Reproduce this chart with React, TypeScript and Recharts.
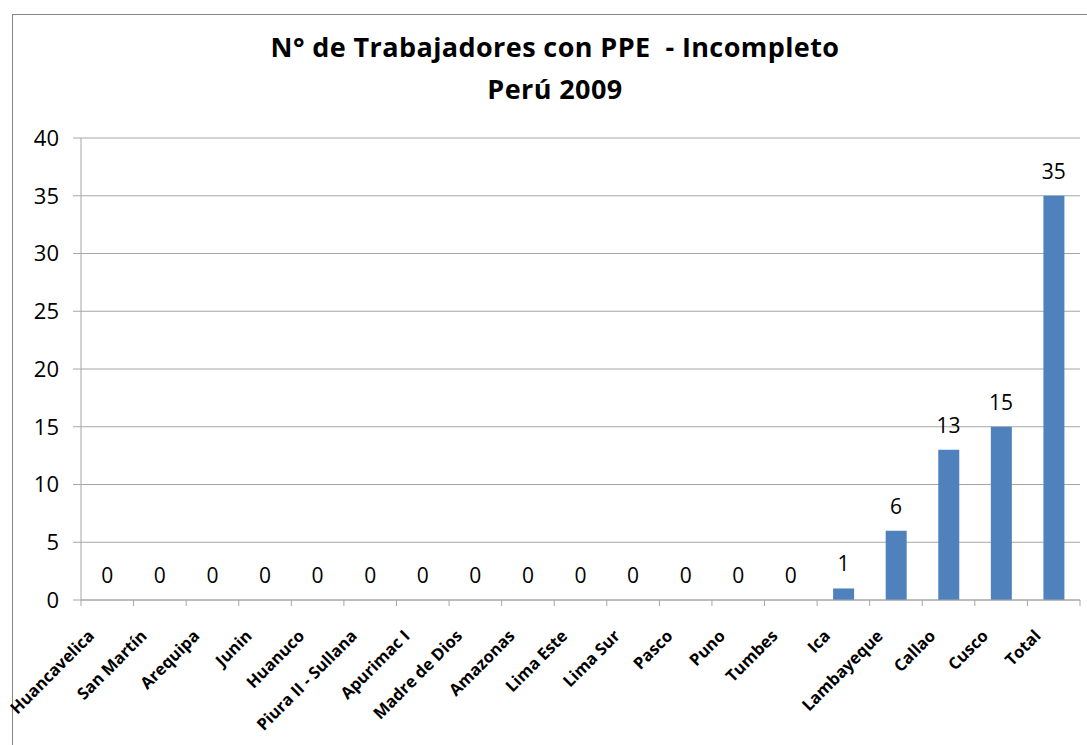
import React from 'react';
import { ComposedChart, Bar, Line, XAxis, YAxis, CartesianGrid, LabelList } from 'recharts';

const categories = [
  'Huancavelica', 'San Martín', 'Arequipa', 'Junin', 'Huanuco', 'Piura II - Sullana',
  'Apurimac I', 'Madre de Dios', 'Amazonas', 'Lima Este', 'Lima Sur', 'Pasco',
  'Puno', 'Tumbes', 'Ica', 'Lambayeque', 'Callao', 'Cusco', 'Total',
];
const values = [0, 0, 0, 0, 0, 0, 0, 0, 0, 0, 0, 0, 0, 0, 1, 6, 13, 15, 35];
const yTicks = [0, 5, 10, 15, 20, 25, 30, 35, 40];
const titleLines = ['N° de Trabajadores con PPE  - Incompleto', 'Perú 2009'];

const data = categories.map((name, i) => ({ name, value: values[i] }));

const FONT = '"Open Sans", sans-serif';
const AXIS = '#A6A6A6';

const XTick = (props: any) => {
  const { x, y, payload, index, width, visibleTicksCount } = props;
  const band = width && visibleTicksCount ? width / visibleTicksCount : 52.6;
  const axisY = y - 6;
  const tx = x - 12;
  const ty = y + 31;
  return (
    <g>
      <line x1={x - band / 2} x2={x - band / 2} y1={axisY} y2={axisY + 6} stroke={AXIS} />
      {index === visibleTicksCount - 1 && (
        <line x1={x + band / 2} x2={x + band / 2} y1={axisY} y2={axisY + 6} stroke={AXIS} />
      )}
      <text
        x={tx}
        y={ty}
        textAnchor="end"
        transform={`rotate(-45, ${tx}, ${ty})`}
        fontFamily={FONT}
        fontWeight="bold"
        fontSize={16.5}
        fill="#000"
      >
        {payload.value}
      </text>
    </g>
  );
};

const ValueLabel = (props: any) => {
  const { x, y, value } = props;
  return (
    <text x={x} y={y - 17} textAnchor="middle" fontFamily={FONT} fontSize={21} fill="#000">
      {String(value)}
    </text>
  );
};

export default function App() {
  return (
    <div style={{ position: 'absolute', left: 0, top: 0, width: 1087, height: 745, overflow: 'hidden', background: '#fff' }}>
      <div
        style={{
          position: 'absolute', left: 12, top: 14, width: 1100, height: 760,
          border: '1px solid #868686', boxSizing: 'border-box',
        }}
      />
      <div style={{ position: 'absolute', left: 0, top: 0 }}>
        <ComposedChart width={1087} height={745} data={data} margin={{ top: 138, right: 7, left: 0, bottom: 0 }}>
          <CartesianGrid vertical={false} stroke={AXIS} />
          <XAxis
            dataKey="name"
            interval={0}
            height={145}
            tickLine={false}
            tickSize={6}
            tickMargin={0}
            axisLine={{ stroke: AXIS }}
            tick={<XTick />}
          />
          <YAxis
            width={81}
            domain={[0, 40]}
            ticks={yTicks}
            interval={0}
            tickSize={8}
            tickMargin={14}
            axisLine={{ stroke: AXIS }}
            tickLine={{ stroke: AXIS }}
            tick={{ fontFamily: FONT, fontSize: 22, fill: '#000' }}
          />
          <Bar dataKey="value" fill="#4F81BD" barSize={21} isAnimationActive={false} />
          <Line
            dataKey="value"
            stroke="none"
            dot={false}
            activeDot={false}
            legendType="none"
            isAnimationActive={false}
          >
            <LabelList dataKey="value" content={<ValueLabel />} />
          </Line>
        </ComposedChart>
      </div>
      <div
        style={{
          position: 'absolute', left: 0, top: 26, width: 1110, textAlign: 'center',
          fontFamily: FONT, fontWeight: 'bold', fontSize: 27, letterSpacing: 0.4,
          lineHeight: '42px', color: '#000',
        }}
      >
        {titleLines.map((t, i) => (
          <div key={i} style={{ whiteSpace: 'pre' }}>{t}</div>
        ))}
      </div>
    </div>
  );
}
